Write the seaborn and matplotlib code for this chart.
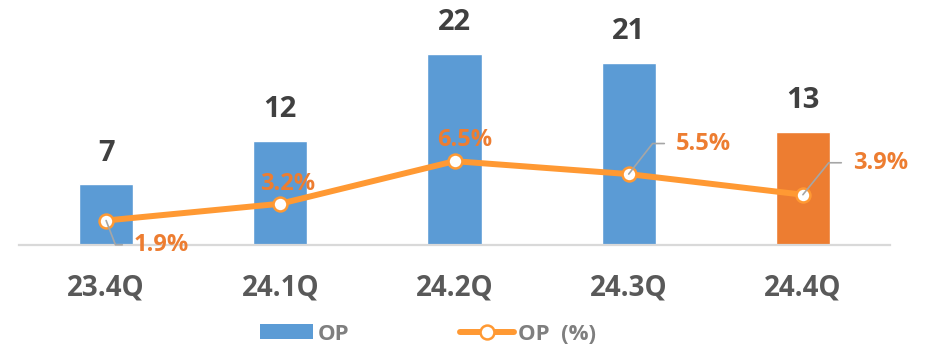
import matplotlib
matplotlib.use("Agg")
import matplotlib.pyplot as plt
from matplotlib import font_manager
import seaborn as sns
import numpy as np
from matplotlib.patches import Patch
from matplotlib.lines import Line2D

# Quarterly operating profit and operating margin
quarters = ["23.4Q", "24.1Q", "24.2Q", "24.3Q", "24.4Q"]
op = [7, 12, 22, 21, 13]
op_pct = [1.9, 3.2, 6.5, 5.5, 3.9]
pct_labels = ["1.9%", "3.2%", "6.5%", "5.5%", "3.9%"]

BLUE = "#5B9BD5"
ORANGE = "#ED7D31"
LINE_ORANGE = "#FF9933"
bar_colors = [BLUE, BLUE, BLUE, BLUE, ORANGE]


def pick_bold_family(candidates):
    """Return the first family that ships a real bold face."""
    for name in candidates:
        for f in font_manager.fontManager.ttflist:
            w = f.weight if isinstance(f.weight, int) else 700 if "bold" in str(f.weight).lower() else 400
            if f.name == name and w >= 600 and f.style == "normal":
                return name
    return "DejaVu Sans"


FAMILY = pick_bold_family(["Noto Sans", "Open Sans", "Lato", "Roboto",
                           "Liberation Sans", "Noto Sans CJK KR"])

sns.set_theme(style="white")
plt.rcParams["font.family"] = [FAMILY, "DejaVu Sans"]
plt.rcParams["font.weight"] = "bold"

fig = plt.figure(figsize=(9.28, 3.46), dpi=100)
ax = fig.add_axes([19 / 928, 101 / 346, 871 / 928, 245 / 346])

sns.barplot(x=quarters, y=op, hue=quarters, palette=bar_colors, width=0.31,
            saturation=1, legend=False, ax=ax, zorder=2)
ax.set_xlim(-0.5, 4.5)
ax.set_ylim(0, 28.2)
ax.set_xlabel("")
ax.set_ylabel("")
ax.set_yticks([])
for side in ("top", "left", "right"):
    ax.spines[side].set_visible(False)
ax.spines["bottom"].set_color("#D9D9D9")
ax.spines["bottom"].set_linewidth(1.6)
ax.tick_params(axis="x", length=0, pad=20.5, labelsize=20, labelcolor="#595959")
for lbl in ax.get_xticklabels():
    lbl.set_fontweight("bold")

# Value labels above the bars
for i, v in enumerate(op):
    ax.annotate(f"{v}", xy=(i, v), xytext=(0, 17), textcoords="offset points",
                ha="center", va="baseline", fontsize=21, fontweight="bold",
                color="#404040")

# Margin line on a secondary axis
ax2 = ax.twinx()
sns.lineplot(x=np.arange(len(op_pct)), y=op_pct, ax=ax2, color=LINE_ORANGE,
             linewidth=4.3, marker="o", markersize=10, markerfacecolor="white",
             markeredgecolor=LINE_ORANGE, markeredgewidth=1.8, zorder=3)
ax2.set_ylim(0, 19)
ax2.set_xlim(-0.5, 4.5)
ax2.set_yticks([])
ax2.set_ylabel("")
for side in ("top", "left", "right", "bottom"):
    ax2.spines[side].set_visible(False)

# Percentage labels: (offset in points, horizontal alignment, leader angle or None)
label_layout = [
    ((20, -17.5), "left", -69),
    ((5, 14), "center", None),
    ((7, 15), "center", None),
    ((34, 22), "left", 52),
    ((36, 23), "left", 51),
]
for i, (v, txt) in enumerate(zip(op_pct, pct_labels)):
    (dx, dy), ha, ang = label_layout[i]
    kw = {}
    if ang is not None:
        kw["arrowprops"] = dict(arrowstyle="-", color="#A6A6A6", lw=1.2,
                                connectionstyle=f"angle,angleA=0,angleB={ang},rad=0",
                                relpos=(0, 0.5), shrinkA=6, shrinkB=0)
    ax2.annotate(txt, xy=(i, v), xytext=(dx, dy), textcoords="offset points",
                 ha=ha, va="center", fontsize=17, fontweight="bold",
                 color=ORANGE, zorder=4, **kw)

handles = [
    Patch(facecolor=BLUE, edgecolor="none"),
    Line2D([0], [0], color=LINE_ORANGE, linewidth=4.3, marker="o",
           markersize=10, markerfacecolor="white", markeredgecolor=LINE_ORANGE,
           markeredgewidth=1.8),
]
fig.legend(handles, ["OP", "OP  (%)"], loc="center", ncol=2,
           bbox_to_anchor=(428 / 928, 12 / 346), frameon=False,
           prop=dict(family=[FAMILY, "DejaVu Sans"], size=16, weight="bold"),
           labelcolor="#7F7F7F",
           handlelength=2.4, handleheight=0.63, handletextpad=0.2,
           columnspacing=5.0)

fig.savefig("out.png", dpi=100)
